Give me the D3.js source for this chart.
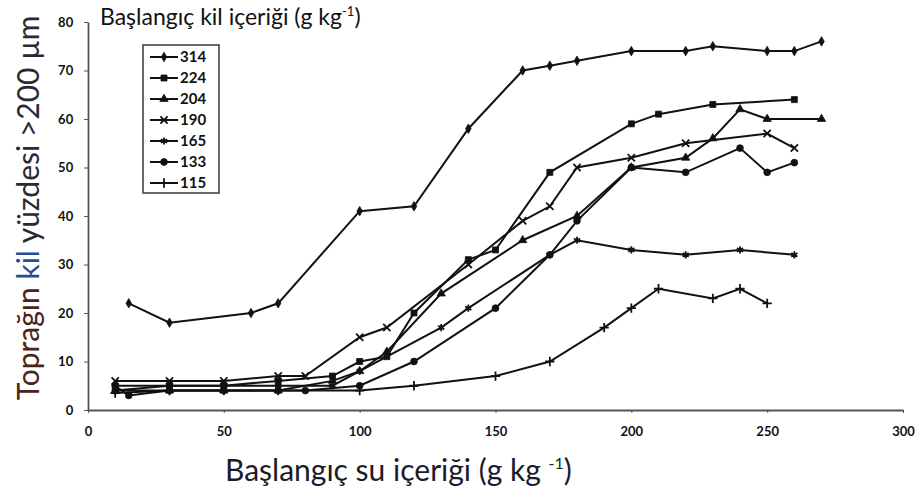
<!DOCTYPE html>
<html>
<head>
<meta charset="utf-8">
<script src="https://cdn.jsdelivr.net/npm/d3@7"></script>
<style>
  body { margin: 0; background: #fff; }
  svg { display: block; font-family: Lato, "Open Sans", sans-serif; }
</style>
</head>
<body>
<div id="chart"></div>
<script>
// initial clay content series (g kg-1), points are [water content, % > 200 um]
const seriesNames = ["314", "224", "204", "190", "165", "133", "115"];
const clay314 = [[15,22],[30,18],[60,20],[70,22],[100,41],[120,42],[140,58],[160,70],[170,71],[180,72],[200,74],[220,74],[230,75],[250,74],[260,74],[270,76]];
const clay224 = [[10,4],[30,5],[50,5],[70,6],[90,7],[100,10],[110,11],[120,20],[140,31],[150,33],[170,49],[200,59],[210,61],[230,63],[260,64]];
const clay204 = [[10,4],[30,4],[50,4],[70,4],[90,6],[100,8],[110,12],[130,24],[160,35],[180,40],[200,50],[220,52],[230,56],[240,62],[250,60],[270,60]];
const clay190 = [[10,6],[30,6],[50,6],[70,7],[80,7],[100,15],[110,17],[140,30],[160,39],[170,42],[180,50],[200,52],[220,55],[250,57],[260,54]];
const clay165 = [[10,5],[30,5],[50,5],[70,5],[90,5],[100,8],[130,17],[140,21],[170,32],[180,35],[200,33],[220,32],[240,33],[260,32]];
const clay133 = [[10,5],[15,3],[30,4],[50,4],[70,4],[80,4],[100,5],[120,10],[150,21],[170,32],[180,39],[200,50],[220,49],[240,54],[250,49],[260,51]];
const clay115 = [[10,3.5],[30,4],[50,4],[70,4],[100,4],[120,5],[150,7],[170,10],[190,17],[200,21],[210,25],[230,23],[240,25],[250,22]];
const xTicks = [0, 50, 100, 150, 200, 250, 300];
const yTicks = [0, 10, 20, 30, 40, 50, 60, 70, 80];

const allSeries = [clay314, clay224, clay204, clay190, clay165, clay133, clay115];
const symbols = [d3.symbolDiamond, d3.symbolSquare, d3.symbolTriangle, d3.symbolTimes, d3.symbolAsterisk, d3.symbolCircle, d3.symbolPlus];
const symbolSizes = [26, 36, 30, 36, 36, 36, 30];
const strokeOnly = [false, false, false, true, true, false, true];

const width = 919, height = 500;
const margin = {left: 88, right: 16, top: 22, bottom: 90};

const svg = d3.select("#chart").append("svg")
    .attr("width", width)
    .attr("height", height);

const xScale = d3.scaleLinear().domain([0, 300]).range([margin.left, width - margin.right]);
const yScale = d3.scaleLinear().domain([0, 80]).range([height - margin.bottom, margin.top]);

// axes
const xAxis = svg.append("g")
    .attr("transform", `translate(0,${yScale(0)})`)
    .call(d3.axisBottom(xScale).tickValues(xTicks).tickSize(3).tickSizeOuter(0));
const yAxis = svg.append("g")
    .attr("transform", `translate(${xScale(0)},0)`)
    .call(d3.axisLeft(yScale).tickValues(yTicks).tickSize(4).tickSizeOuter(0));

[xAxis, yAxis].forEach(a => {
    a.select(".domain").attr("stroke", "#555").attr("stroke-width", 1.8);
    a.selectAll(".tick line").attr("stroke", "#555");
    a.selectAll("text")
        .attr("font-family", "Lato, sans-serif")
        .attr("font-weight", "bold")
        .attr("font-size", 13)
        .attr("fill", "#111");
});
xAxis.selectAll("text").attr("dy", "1.5em");
yAxis.selectAll("text").attr("dx", "-0.6em");

// lines and markers
const line = d3.line()
    .x(d => xScale(d[0]))
    .y(d => yScale(d[1]));

allSeries.forEach((data, i) => {
    svg.append("path")
        .datum(data)
        .attr("fill", "none")
        .attr("stroke", "#111")
        .attr("stroke-width", 2)
        .attr("d", line);

    svg.selectAll(".m" + i)
        .data(data)
        .enter()
        .append("path")
        .attr("class", "m" + i)
        .attr("transform", d => `translate(${xScale(d[0])},${yScale(d[1])})`)
        .attr("d", d3.symbol().type(symbols[i]).size(symbolSizes[i]))
        .attr("fill", strokeOnly[i] ? "none" : "#111")
        .attr("stroke", "#111")
        .attr("stroke-width", strokeOnly[i] ? 1.8 : 0.8);
});

// legend
const legend = svg.append("g").attr("transform", "translate(143,45)");
legend.append("rect")
    .attr("width", 76)
    .attr("height", 148)
    .attr("fill", "#fff")
    .attr("stroke", "#444")
    .attr("stroke-width", 1.6);

seriesNames.forEach((name, i) => {
    const ly = 12 + i * 21;
    legend.append("line")
        .attr("x1", 7).attr("x2", 35)
        .attr("y1", ly).attr("y2", ly)
        .attr("stroke", "#111")
        .attr("stroke-width", 2);
    legend.append("path")
        .attr("transform", `translate(21,${ly})`)
        .attr("d", d3.symbol().type(symbols[i]).size(symbolSizes[i]))
        .attr("fill", strokeOnly[i] ? "none" : "#111")
        .attr("stroke", "#111")
        .attr("stroke-width", strokeOnly[i] ? 1.8 : 0.8);
    legend.append("text")
        .attr("x", 37)
        .attr("y", ly + 5)
        .attr("font-weight", "bold")
        .attr("font-size", 15)
        .attr("fill", "#111")
        .text(name);
});

// legend header
const header = svg.append("text")
    .attr("x", 100)
    .attr("y", 25)
    .attr("font-size", 23)
    .attr("fill", "#111");
header.append("tspan").text("Başlangıç kil içeriği (g kg");
header.append("tspan").attr("font-size", 13).attr("dy", -9).text("-1");
header.append("tspan").attr("dy", 9).text(")");

// x label
const xLabel = svg.append("text")
    .attr("x", 225)
    .attr("y", 481)
    .attr("font-size", 30)
    .attr("fill", "#1b1b2b");
xLabel.append("tspan").text("Başlangıç su içeriği (g kg ");
xLabel.append("tspan").attr("font-size", 16).attr("dy", -12).text("-1");
xLabel.append("tspan").attr("dy", 12).text(")");

// y label
const yLabel = svg.append("text")
    .attr("transform", "translate(39,208) rotate(-90)")
    .attr("text-anchor", "middle")
    .attr("font-size", 30)
    .attr("fill", "#2a2a35");
yLabel.append("tspan").attr("fill", "#4a2416").text("Toprağın ");
yLabel.append("tspan").attr("fill", "#1f4f95").text("kil ");
yLabel.append("tspan").text("yüzdesi >200 µm");
</script>
</body>
</html>
